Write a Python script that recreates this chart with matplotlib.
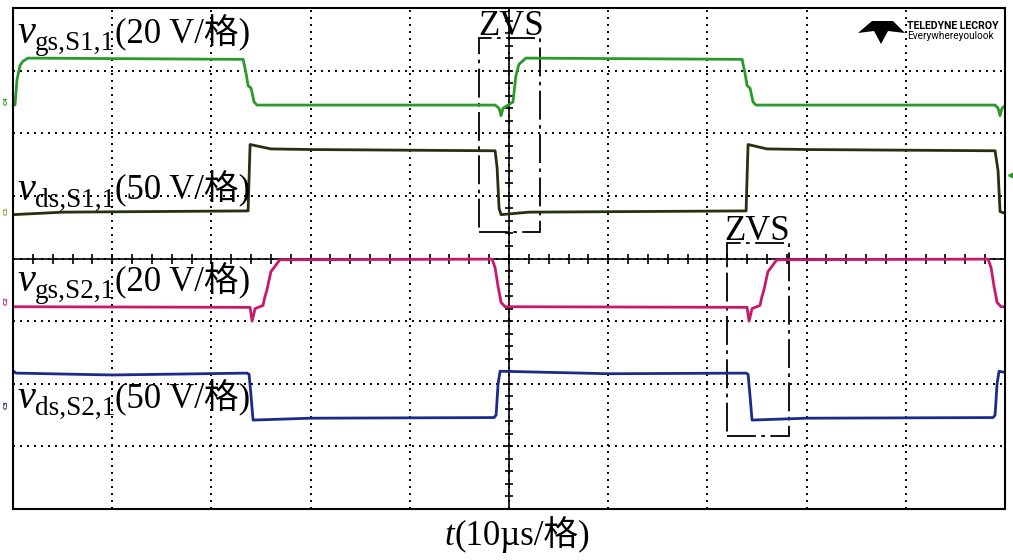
"""
Oscilloscope capture: gate and drain-source voltages of S1,1 and S2,1 with ZVS marked.
"""

import numpy as np
import matplotlib
matplotlib.use("Agg")
import matplotlib.pyplot as plt
from matplotlib import transforms
from matplotlib.patches import Rectangle, Polygon

# time in us (10 us / div), amplitude in screen divisions (0 = bottom edge)
t_gs1 = [0, 0.2, 0.4, 0.7, 1.0, 1.5, 23.2, 23.5, 23.7, 24.0, 24.3, 24.6, 48.6, 49.0, 49.2, 49.4,
         50.1, 50.4, 50.7, 51.0, 51.7, 73.5, 73.8, 74.0, 74.3, 74.6, 74.9, 99.0, 99.3, 99.5, 99.7, 100]
v_gs1 = [6.45, 6.45, 6.85, 7.08, 7.15, 7.20, 7.18, 6.95, 6.76, 6.72, 6.50, 6.45, 6.45, 6.40, 6.28, 6.40,
         6.47, 6.50, 6.92, 7.10, 7.20, 7.18, 6.95, 6.76, 6.72, 6.50, 6.45, 6.45, 6.40, 6.28, 6.40, 6.44]

t_ds1 = [0, 5, 23.7, 23.8, 23.9, 26.0, 30, 48.6, 48.8, 49.0, 49.2, 52, 73.9, 74.0, 74.1, 76.0, 80,
         99.0, 99.3, 99.5, 100]
v_ds1 = [4.70, 4.74, 4.76, 5.30, 5.82, 5.75, 5.74, 5.72, 5.45, 4.80, 4.70, 4.74, 4.76, 5.30, 5.82,
         5.75, 5.74, 5.72, 5.40, 4.75, 4.72]

t_gs2 = [0, 23.9, 24.1, 24.4, 25.2, 25.4, 25.6, 26.0, 26.9, 48.3, 48.6, 48.9, 49.2, 49.6,
         74.0, 74.2, 74.5, 75.3, 75.5, 75.7, 76.1, 77.0, 98.3, 98.6, 98.9, 99.2, 99.6, 100]
v_gs2 = [3.23, 3.22, 3.00, 3.20, 3.25, 3.39, 3.50, 3.79, 3.98, 3.99, 3.85, 3.55, 3.30, 3.23,
         3.22, 3.00, 3.20, 3.25, 3.39, 3.50, 3.79, 3.98, 3.99, 3.85, 3.55, 3.30, 3.23, 3.23]

t_ds2 = [0, 0.3, 10, 23.6, 23.8, 24.0, 24.2, 30, 48.5, 48.7, 48.9, 49.1, 60, 73.9, 74.1, 74.3,
         74.5, 80, 98.8, 99.0, 99.2, 99.4, 100]
v_ds2 = [2.21, 2.17, 2.14, 2.17, 2.15, 1.80, 1.42, 1.45, 1.46, 1.50, 2.00, 2.20, 2.16, 2.17, 2.15,
         1.80, 1.42, 1.45, 1.46, 1.50, 2.00, 2.20, 2.18]

traces = [
    (t_gs1, v_gs1, "#2a9a2a"),
    (t_ds1, v_ds1, "#26300f"),
    (t_gs2, v_gs2, "#c8186e"),
    (t_ds2, v_ds2, "#1c2a8c"),
]

# label text and baseline (in divisions)
labels = [
    ("gs,S1,1", "(20 V/格)", 7.44),
    ("ds,S1,1", "(50 V/格)", 4.94),
    ("gs,S2,1", "(20 V/格)", 3.48),
    ("ds,S2,1", "(50 V/格)", 1.61),
]

SERIF = ["Liberation Serif", "Noto Sans CJK SC"]


def chain_text(fig, base, x, y, parts):
    """Draws text pieces one after another on a shared baseline."""
    renderer = fig.canvas.get_renderer()
    dx = 0
    for s, size, style, dy in parts:
        tr = transforms.offset_copy(base, fig=fig, x=dx, y=dy, units="dots")
        txt = fig.text(x, y, s, transform=tr, fontsize=size, fontstyle=style,
                       family=SERIF, va="baseline", ha="left")
        dx += txt.get_window_extent(renderer).width
    return dx


fig = plt.figure(figsize=(10.13, 5.6), dpi=100)
ax = fig.add_axes([13 / 1013, 51 / 560, 992 / 1013, 501 / 560])
ax.set_xlim(0, 100)
ax.set_ylim(0, 8)
ax.set_xticks(np.arange(0, 101, 10))
ax.set_yticks(np.arange(0, 9, 1))
ax.tick_params(length=0, labelbottom=False, labelleft=False)
ax.grid(True, color="black", linestyle=(0, (1, 2.6)), linewidth=1.4)
for sp in ax.spines.values():
    sp.set_linewidth(1.5)

# centre crosshair with minor ticks
ax.axhline(4, color="black", lw=1.2)
ax.axvline(50, color="black", lw=1.2)
xt = np.arange(0, 100.1, 2)
ax.plot(xt, np.full(len(xt), 4.0), "|", color="black", ms=7, mew=1.2)
yt = np.arange(0, 8.01, 0.2)
ax.plot(np.full(len(yt), 50.0), yt, "_", color="black", ms=6, mew=1.2)

for t, v, c in traces:
    ax.plot(t, v, color=c, lw=2.0, solid_joinstyle="round")

# ZVS windows
for x0, x1, y0, y1 in [(46.98, 53.12, 4.42, 7.52), (71.98, 78.23, 1.17, 4.25)]:
    ax.add_patch(Rectangle((x0, y0), x1 - x0, y1 - y0, fill=False, edgecolor="black",
                           lw=1.3, linestyle=(0, (16, 3, 2, 3))))
ax.text(50.2, 7.57, "ZVS", fontsize=25, family=SERIF, ha="center", va="baseline")
ax.text(75.0, 4.30, "ZVS", fontsize=25, family=SERIF, ha="center", va="baseline")

for sub, scale, yb in labels:
    chain_text(fig, ax.transData, 0.4, yb,
               [("v", 29, "italic", 0), (sub, 19.5, "normal", -7), (scale, 25, "normal", 0)])

# x axis caption, centred by measuring first
renderer = fig.canvas.get_renderer()
probe = [fig.text(0, 0, "t", fontsize=25, fontstyle="italic", family=SERIF),
         fig.text(0, 0, "(10µs/格)", fontsize=25, family=SERIF)]
w = sum(p.get_window_extent(renderer).width for p in probe)
for p in probe:
    p.remove()
chain_text(fig, fig.transFigure, 517 / 1013 - w / 2 / 1013, 15 / 560,
           [("t", 25, "italic", 0), ("(10µs/格)", 25, "normal", 0)])

# channel tags on the left edge
for txt, py, c in [("C4", 101, "#2a9a2a"), ("C1", 211, "#8a9a20"), ("C2", 301, "#c8186e"),
                   ("C3", 405, "#1c2a8c")]:
    fig.text(6 / 1013, 1 - py / 560, txt, fontsize=4.5, color=c, fontweight="bold",
             ha="center", va="center", rotation=90)
ax.plot([100.6], [5.34], "<", color="#2a9a2a", ms=4, clip_on=False)

# scope logo
logo = [(858, 33), (872, 21), (893, 21), (905, 33), (888, 31), (881, 44), (874, 31)]
fig.patches.append(Polygon([(x / 1013, 1 - y / 560) for x, y in logo], closed=True,
                           transform=fig.transFigure, facecolor="black", edgecolor="none"))
fig.text(907 / 1013, 1 - 29 / 560, "TELEDYNE LECROY", fontsize=7.6, fontweight="bold",
         family="Roboto", va="baseline")
fig.text(907 / 1013, 1 - 39 / 560, "Everywhereyoulook", fontsize=7.2, family="Roboto",
         va="baseline")

fig.savefig("out.png", dpi=100)
